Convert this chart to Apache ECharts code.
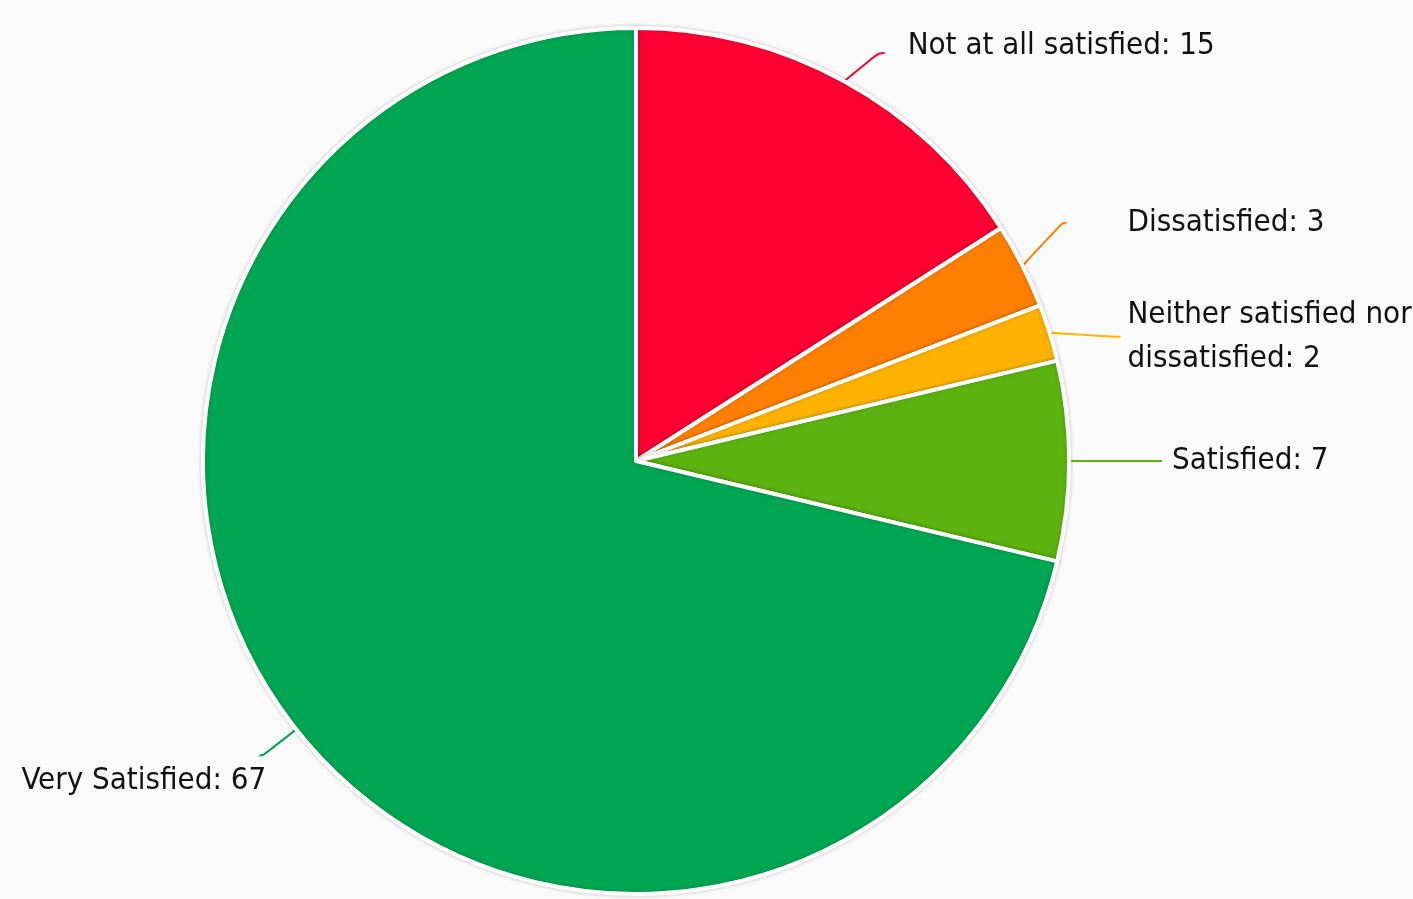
<!DOCTYPE html>
<html>
<head>
<meta charset="utf-8">
<script src="https://cdn.jsdelivr.net/npm/echarts@6/dist/echarts.min.js"></script>
<style>
html,body{margin:0;padding:0;background:#fafafa;}
#chart{width:1413px;height:899px;}
</style>
</head>
<body>
<div id="chart"></div>
<script>
const categories = ["Not at all satisfied", "Dissatisfied", "Neither satisfied nor dissatisfied", "Satisfied", "Very Satisfied"];
const values = [15, 3, 2, 7, 67];
const colors = ["#ff0033", "#ff7f00", "#ffb300", "#5cb30f", "#00a651"];

// per-slice label line lengths [length, length2, distance, top padding, label dx, label dy]
const lineLen = [[72, 6, 14, 60, 9, -7], [95, 4, 30, 0, 31, 0], [70, 6, 7, 92, 0, 0], [50, 53, 10, 0, 0, 0], [42, 4, 0, 0, 7, 26]];

const chart = echarts.init(document.getElementById('chart'));
const data = categories.map((c, i) => {
  const d = {
    name: c, value: values[i],
    itemStyle: { color: colors[i] },
    labelLine: { length: lineLen[i][0], length2: lineLen[i][1], lineStyle: { color: colors[i] } },
    label: { distanceToLabelLine: lineLen[i][2], padding: [lineLen[i][3], 0, 0, 0] }
  };
  if (i === 2) {
    d.label.formatter = p => p.name.replace(' dissatisfied', '\ndissatisfied') + ': ' + p.value;
  }
  return d;
});
chart.setOption({
  backgroundColor: '#fafafa',
  animation: false,
  series: [{
    type: 'pie',
    center: [636, 461],
    radius: 433,
    startAngle: 90,
    clockwise: true,
    data: data,
    itemStyle: { borderColor: '#ffffff', borderWidth: 4, shadowBlur: 4, shadowColor: 'rgba(0,0,0,0.18)' },
    label: {
      show: true,
      formatter: '{b}: {c}',
      color: '#111111',
      fontFamily: '"DejaVu Sans Condensed", sans-serif',
      fontSize: 31,
      lineHeight: 44,
      overflow: 'none'
    },
    labelLayout: p => {
      const o = {};
      if (lineLen[p.dataIndex][4]) o.dx = lineLen[p.dataIndex][4];
      if (lineLen[p.dataIndex][5]) o.dy = lineLen[p.dataIndex][5];
      return o;
    },
    labelLine: { show: true, smooth: 0.4, lineStyle: { width: 2 } }
  }]
});
</script>
</body>
</html>
